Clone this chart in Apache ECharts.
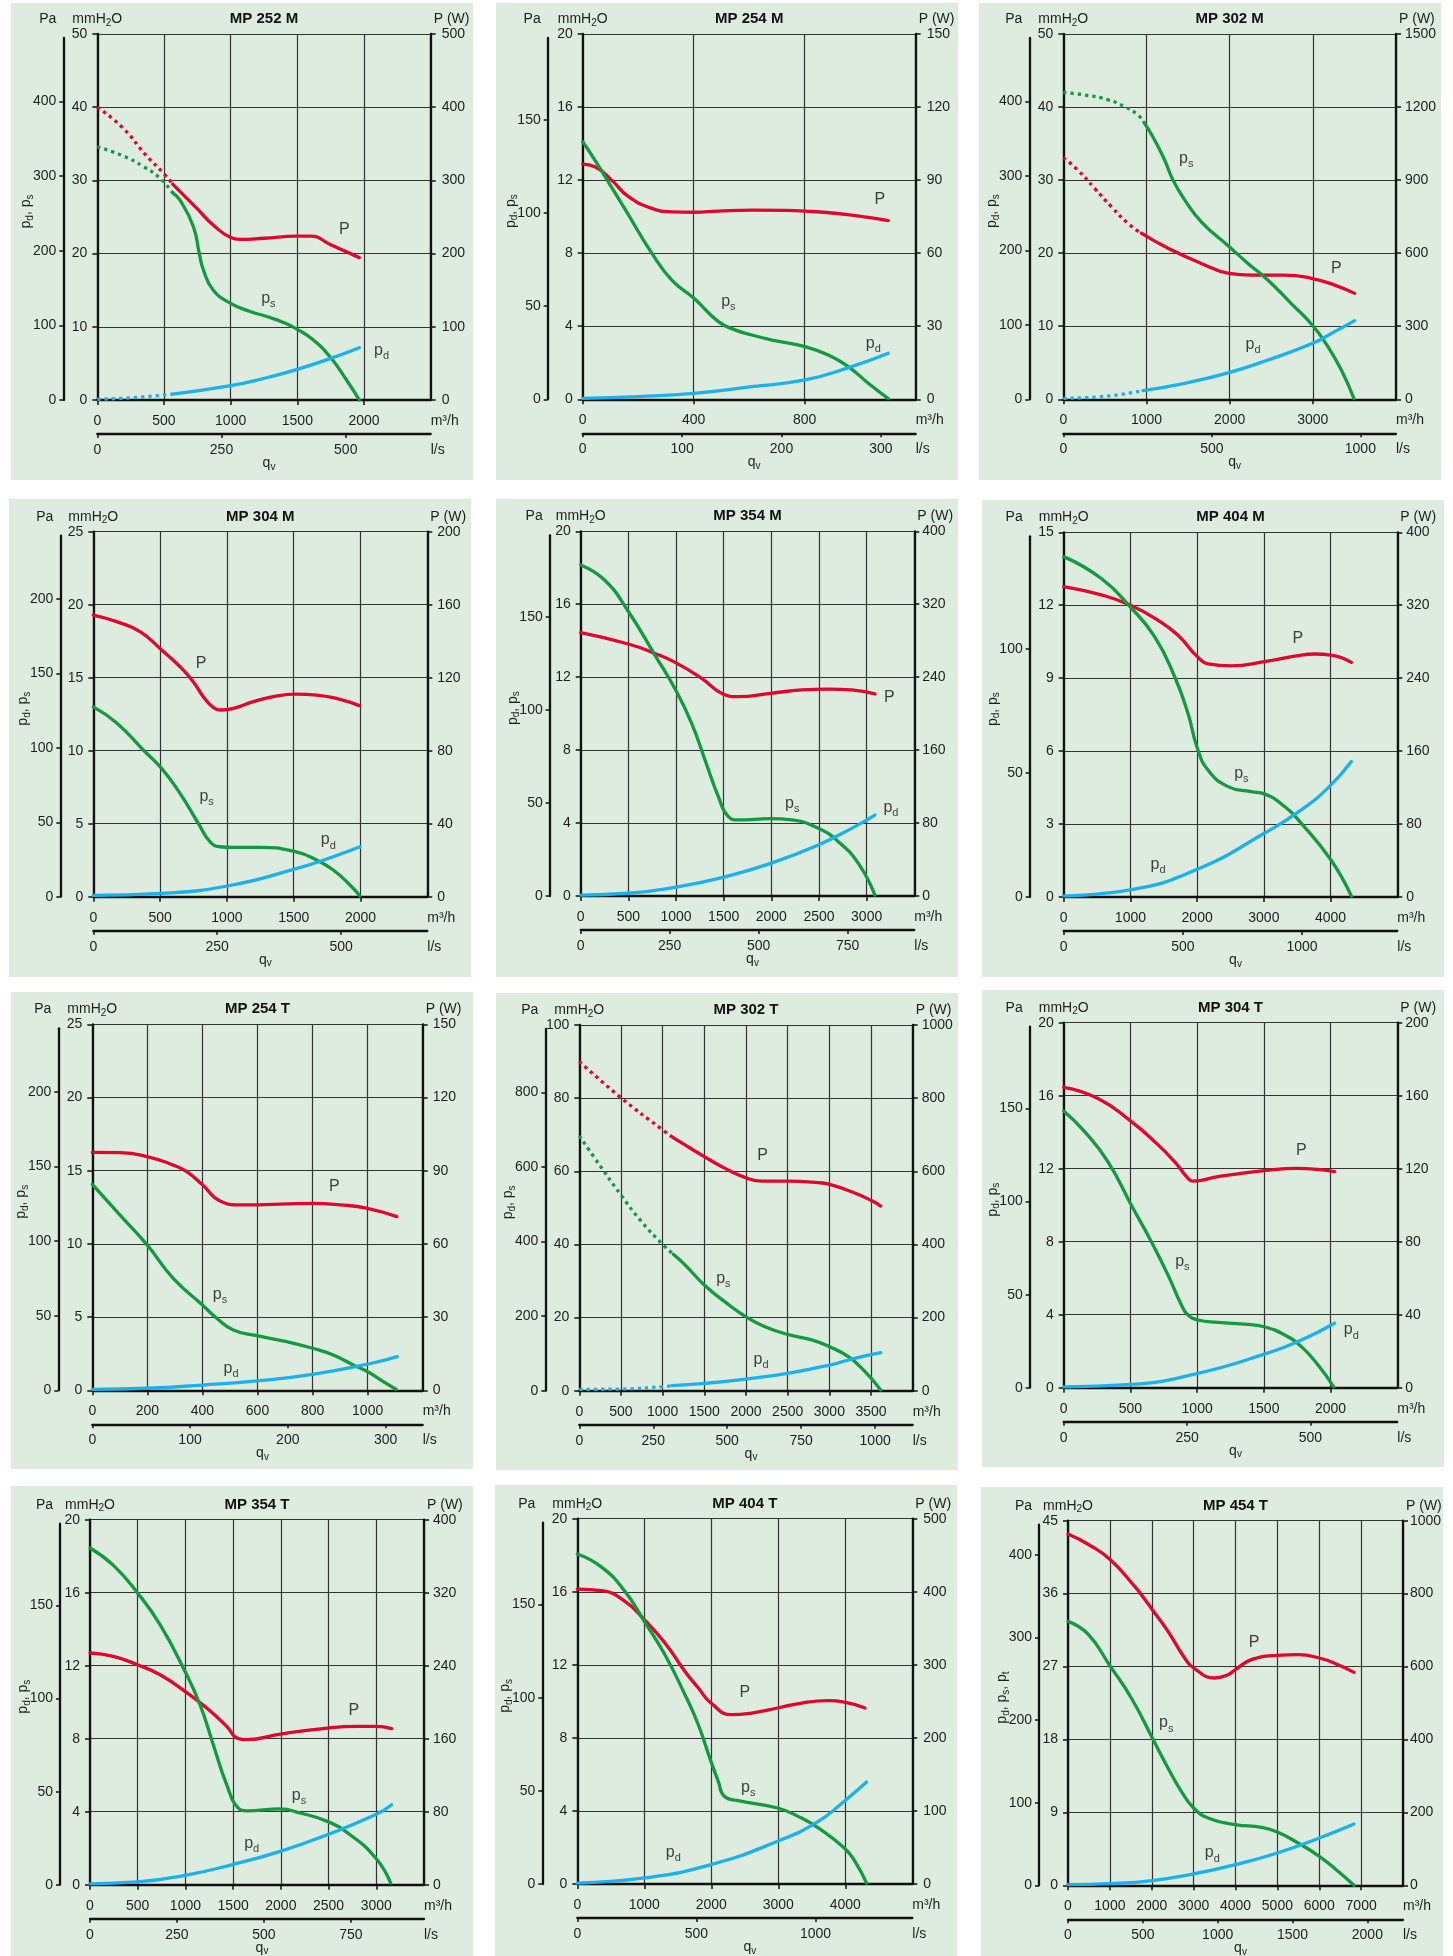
<!DOCTYPE html>
<html><head><meta charset="utf-8">
<script src="https://cdn.jsdelivr.net/npm/echarts@6/dist/echarts.min.js"></script>
<style>
html,body{margin:0;padding:0;background:#fff;width:1453px;height:1956px;overflow:hidden}
.p{position:absolute;background:#deebdf}
</style></head><body>
<script>
// ---------- titles & axis scales ----------
const TITLES = ['MP 252 M','MP 254 M','MP 302 M','MP 304 M','MP 354 M','MP 404 M','MP 254 T','MP 302 T','MP 304 T','MP 354 T','MP 404 T','MP 454 T'];
const MM_AXIS = [[50,10],[20,4],[50,10],[25,5],[20,4],[15,3],[25,5],[100,20],[20,4],[20,4],[20,4],[45,9]];      // mmH2O [max, step]
const P_AXIS  = [[500,100],[150,30],[1500,300],[200,40],[400,80],[400,80],[150,30],[1000,200],[200,40],[400,80],[500,100],[1000,200]]; // W
const Q_AXIS  = [[2500,500],[1200,400],[4000,1000],[2500,500],[3500,500],[5000,1000],[1200,200],[4000,500],[2500,500],[3500,500],[5000,1000],[8000,1000]]; // m3/h
const LS_AXIS = [[671,250],[335,100],[1120,500],[674,250],[937,250],[1400,500],[338,100],[1127,250],[676,250],[960,250],[1406,500],[2238,500]]; // l/s
const PA_TICKS = [[400,100],[150,50],[400,100],[200,50],[150,50],[100,50],[200,50],[800,200],[150,50],[150,50],[150,50],[400,100]]; // Pa [last label, step]
const Y_NAMES = ['d,s','d,s','d,s','d,s','d,s','d,s','d,s','d,s','d,s','d,s','d,s','d,s,t'];
// dotted until q (m3/h) for [P, ps, pd]
const DOTTED = [[565,565,565],null,[938,970,958],null,null,null,null,[1108,1128,1108],null,null,null,null];

// ---------- curve data: [q m3/h, value] (P in W, ps/pd in mmH2O) ----------
const MP252M_P  = [[0,400],[190,372],[362,335],[495,310],[565,295],[750,261],[875,238],[1000,222],[1070,219.5],[1250,221],[1500,224],[1600,224],[1750,212],[1965,194.5]];
const MP252M_ps = [[0,34.6],[200,33.3],[345,31.9],[470,30.3],[565,28.3],[620,27.3],[720,23.7],[765,20.0],[795,17.8],[870,15.0],[1000,13.2],[1145,12.1],[1270,11.4],[1395,10.6],[1500,9.65],[1620,8.2],[1745,5.9],[1870,2.7],[1965,0]];
const MP252M_pd = [[0,0.1],[250,0.3],[565,0.8],[1000,1.96],[1250,2.95],[1500,4.19],[1750,5.69],[1965,7.15]];

const MP254M_P  = [[0,96.6],[44,95.5],[104,90],[165,83.2],[249,78.4],[321,77],[401,76.8],[489,77.3],[609,77.7],[729,77.6],[801,77.3],[909,76.4],[1029,74.7],[1101,73.4]];
const MP254M_ps = [[0,14.1],[44,13.1],[92,11.9],[153,10.4],[249,8.0],[321,6.53],[401,5.53],[489,4.25],[549,3.8],[609,3.52],[693,3.21],[801,2.88],[885,2.43],[957,1.79],[1029,0.88],[1101,0.04]];
const MP254M_pd = [[0,0.05],[200,0.15],[401,0.33],[609,0.69],[801,1.06],[969,1.79],[1101,2.52]];

const MP302M_P  = [[0,992],[176,941],[377,866],[577,791],[778,722],[938,682],[1259,620],[1659,558],[1992,517],[2260,510],[2661,510],[2982,497],[3263,469],[3503,435]];
const MP302M_ps = [[0,42.0],[256,41.65],[537,41.0],[737,40.05],[898,38.9],[970,37.9],[1098,35.5],[1218,32.75],[1319,30.0],[1459,27.3],[1659,24.3],[1992,20.9],[2220,18.6],[2461,16.3],[2741,13.1],[2998,10.1],[3182,7.2],[3343,4.0],[3495,0.1]];
const MP302M_pd = [[0,0.14],[457,0.36],[958,1.19],[1459,2.19],[1992,3.65],[2461,5.38],[2998,7.66],[3263,9.26],[3503,10.77]];

const MP304M_P  = [[0,154.3],[175,150.7],[349,145.2],[511,135.2],[649,126],[748,117.8],[823,109.6],[898,103.7],[961,102.3],[1048,103.2],[1198,106.9],[1347,109.6],[1512,111],[1672,110.5],[1846,108.1],[1991,104.7]];
const MP304M_ps = [[0,13.0],[175,11.9],[374,10.05],[511,8.79],[649,7.08],[786,5.02],[873,3.77],[948,3.42],[1048,3.38],[1247,3.38],[1512,3.08],[1672,2.51],[1796,1.83],[1921,0.8],[1996,0.05]];
const MP304M_pd = [[0,0.09],[511,0.23],[1013,0.75],[1512,1.9],[1796,2.74],[1996,3.42]];

const MP354M_P  = [[0,288.8],[500,276.4],[780,266],[996,256],[1269,238.8],[1493,221.6],[1654,218.6],[1993,222.3],[2318,226],[2598,227],[2843,226],[3087,221.6]];
const MP354M_ps = [[0,18.15],[255,17.3],[500,15.6],[780,13.2],[996,11.3],[1164,9.47],[1304,7.46],[1444,5.45],[1549,4.35],[1654,4.17],[1993,4.24],[2213,4.17],[2493,3.71],[2703,2.98],[2913,1.79],[3087,0.05]];
const MP354M_pd = [[0,0.05],[500,0.15],[996,0.48],[1493,1.02],[1993,1.79],[2493,2.8],[2843,3.71],[3087,4.44]];

const MP404M_P  = [[0,340.4],[564,331.3],[994,320.3],[1414,303.5],[1713,287],[2003,263.6],[2163,255.6],[2513,253.4],[3007,258.1],[3561,265.4],[3761,266.5],[4006,265.4],[4311,257.4]];
const MP404M_ps = [[0,14.0],[564,13.1],[994,11.94],[1364,10.7],[1663,9.06],[1863,7.55],[2003,6.12],[2163,5.22],[2463,4.54],[2812,4.33],[3007,4.24],[3312,3.72],[3561,3.03],[4006,1.52],[4311,0.04]];
const MP404M_pd = [[0,0.05],[994,0.29],[2003,1.14],[3007,2.62],[3561,3.58],[4006,4.61],[4311,5.57]];

const MP254T_P  = [[0,97.5],[100,97.4],[199,95.8],[294,92.3],[343,89.6],[400,84.2],[464,77.6],[536,76.0],[598,76.0],[706,76.4],[800,76.6],[900,76.0],[999,74.6],[1106,71.2]];
const MP254T_ps = [[0,14.07],[100,11.98],[199,9.93],[294,7.65],[400,5.83],[452,4.92],[512,4.12],[598,3.73],[706,3.32],[800,2.87],[875,2.41],[948,1.73],[999,1.28],[1057,0.59],[1103,0.07]];
const MP254T_pd = [[0,0.07],[199,0.14],[400,0.36],[598,0.64],[800,1.09],[999,1.78],[1108,2.3]];

const MP302T_P  = [[0,900],[500,801],[1000,713],[1108,695],[1268,672],[1500,640],[1748,608],[2000,582],[2188,573],[2500,573],[2868,569],[3004,564],[3268,544],[3504,520],[3616,505]];
const MP302T_ps = [[0,69.7],[188,63.5],[500,53.5],[748,46.2],[1000,40.0],[1128,37.3],[1268,34.4],[1500,28.9],[1748,24.3],[2000,20.2],[2228,17.5],[2500,15.4],[2788,13.9],[3004,12.0],[3228,9.3],[3428,5.2],[3616,0.2]];
const MP302T_pd = [[0,0.36],[500,0.46],[1000,1.09],[1108,1.37],[1500,2.0],[2000,3.19],[2500,4.74],[3004,7.02],[3268,8.66],[3616,10.39]];

const MP304T_P  = [[0,164.6],[257,158.5],[507,145.8],[682,134.8],[832,123.8],[932,114.7],[969,113.2],[1156,115.6],[1503,118.9],[1756,120.2],[1906,119.6],[2030,118.4]];
const MP304T_ps = [[0,15.16],[157,14.03],[332,12.38],[507,10.0],[657,8.0],[782,6.17],[882,4.53],[932,3.98],[1006,3.71],[1156,3.58],[1381,3.47],[1503,3.34],[1656,2.89],[1781,2.25],[1906,1.24],[2023,0.05]];
const MP304T_pd = [[0,0.05],[507,0.18],[1006,0.79],[1503,1.84],[1781,2.61],[2030,3.53]];

const MP354T_P  = [[0,253.9],[245,250.2],[496,241.1],[734,230.1],[995,211.9],[1223,193.6],[1432,173.5],[1554,160],[1642,158.9],[1994,165.1],[2487,171.7],[2795,173.5],[2994,173.5],[3161,171]];
const MP354T_ps = [[0,18.45],[245,17.5],[496,16.0],[734,14.25],[995,11.69],[1153,9.86],[1292,7.67],[1432,5.48],[1554,4.2],[1642,4.05],[1994,4.15],[2200,3.93],[2487,3.47],[2725,2.74],[2994,1.46],[3151,0.09]];
const MP354T_pd = [[0,0.05],[496,0.15],[995,0.51],[1491,1.1],[1994,1.83],[2487,2.74],[2994,3.84],[3161,4.38]];

const MP404T_P  = [[0,403.7],[363,401.5],[711,386.9],[1000,361.8],[1308,329.8],[1607,291],[1806,268.2],[1995,247.7],[2303,231.7],[2602,234],[2990,240.9],[3348,247.7],[3746,250.9],[3985,249.1],[4293,240.9]];
const MP404T_ps = [[0,18.07],[363,17.35],[711,16.02],[1000,14.38],[1308,12.55],[1607,10.36],[1806,8.72],[1995,6.71],[2104,5.62],[2194,4.8],[2403,4.56],[2990,4.16],[3348,3.61],[3597,3.07],[3985,1.97],[4144,1.24],[4318,0.05]];
const MP404T_pd = [[0,0.05],[1000,0.33],[1995,1.06],[2990,2.34],[3597,3.43],[3985,4.53],[4318,5.58]];

const MP454T_P  = [[0,963.4],[500,934],[1011,893],[1592,820],[1751,797],[2014,756],[2388,696.5],[2786,623.4],[3001,596],[3502,568.6],[3821,577.7],[3996,591.4],[4378,618.8],[4999,630.7],[5492,632.5],[6002,623.4],[6448,605.1],[6830,584.1]];
const MP454T_ps = [[0,32.58],[478,31.0],[1011,27.02],[1512,23.12],[2014,18.18],[2388,14.48],[2706,11.6],[3001,9.54],[3343,8.31],[3996,7.49],[4617,7.16],[4999,6.58],[5492,5.22],[6002,3.58],[6448,1.73],[6830,0]];
const MP454T_pd = [[0,0.08],[1000,0.2],[2014,0.58],[3001,1.4],[3996,2.55],[4999,3.99],[6002,5.84],[6830,7.57]];

const CURVES = [
  [MP252M_P,MP252M_ps,MP252M_pd],[MP254M_P,MP254M_ps,MP254M_pd],[MP302M_P,MP302M_ps,MP302M_pd],
  [MP304M_P,MP304M_ps,MP304M_pd],[MP354M_P,MP354M_ps,MP354M_pd],[MP404M_P,MP404M_ps,MP404M_pd],
  [MP254T_P,MP254T_ps,MP254T_pd],[MP302T_P,MP302T_ps,MP302T_pd],[MP304T_P,MP304T_ps,MP304T_pd],
  [MP354T_P,MP354T_ps,MP354T_pd],[MP404T_P,MP404T_ps,MP404T_pd],[MP454T_P,MP454T_ps,MP454T_pd]
];
// curve label anchors [q, mmH2O] for P, ps, pd
const LABEL_AT = [
  [[1852,23.3],[1283,13.9],[2132,6.8]],
  [[1071,10.95],[525,5.35],[1047,3.07]],
  [[3283,17.9],[1479,33.0],[2281,7.44]],
  [[806,16.0],[848,6.85],[1759,3.88]],
  [[3238,10.9],[2220,5.08],[3255,4.84]],
  [[3511,10.61],[2663,5.09],[1414,1.32]],
  [[879,13.91],[464,6.52],[504,1.5]],
  [[2200,64.4],[1728,30.7],[2180,8.57]],
  [[1781,12.98],[889,6.9],[2155,3.16]],
  [[2766,9.53],[2190,4.9],[1694,2.25]],
  [[2502,10.46],[2552,5.26],[1433,1.7]],
  [[4442,29.9],[2348,20.03],[3447,3.99]]
];

// ---------- layout (page pixels) ----------
const BG = [[11,3,473,480],[496,3,958,480],[979,3,1441,480],
            [9,499,471,977],[496,499,958,977],[982,500,1444,977],
            [11,992,473,1469],[496,993,958,1470],[982,990,1444,1467],
            [11,1486,473,1956],[495,1485,957,1956],[981,1487,1443,1956]];
const PLOT = [[97.3,34,430.7,400],[582.7,34,915.7,399.3],[1063.3,34,1396,399.3],
              [93.3,531.7,427.3,896.7],[580.7,531.3,914.3,896],[1063.7,532.3,1397.3,897],
              [92.3,1024.3,422.7,1390.3],[579.3,1025,912.7,1390.7],[1063.7,1022.7,1397.3,1387.7],
              [90,1519.7,424,1884.7],[577.3,1518.7,912.3,1884],[1068,1520.7,1403,1885.3]];
const PA_OFF = [34,35,34,33,31,34,34,34,34,30,35,29];
const R_MARGIN = [11,11,9,10,8,9,10,9,8,9,11,7];

const FONT = "'Liberation Sans', Arial, Helvetica, sans-serif";
const RED = '#e1062c', GREEN = '#139a3f', BLUE = '#1ab1ec';
const INK = '#111', LBL = '#1e1e1e';
const R14 = {b:{fontSize:14,lineHeight:18,color:LBL,fontFamily:FONT,fontWeight:'normal'}, s:{fontSize:10,lineHeight:10,padding:[8,0,0,0],color:LBL,fontFamily:FONT,fontWeight:'normal'}};
const R16 = {b:{fontSize:16,lineHeight:22,color:INK,fontFamily:FONT}, s:{fontSize:11,lineHeight:11,padding:[11,0,0,0],color:INK,fontFamily:FONT}};
const CURVE_LABEL = ['{b|P}','{b|p}{s|s}','{b|p}{s|d}'];

function steps(max, step){ const a=[]; for(let v=0; v<=max+1e-9; v+=step) a.push(+v.toFixed(6)); return a; }
function yName(s){ return s.split(',').map((c,k)=>(k?'{b|, p}':'{b|p}')+'{s|'+c+'}').join(''); }
const plain = (v)=>String(Math.round(v*1000)/1000);

function lineSeries(data, color, yIdx, dotted, z){
  return {type:'line', data:data, xAxisIndex:0, yAxisIndex:yIdx, smooth:0.5, symbol:'none', showSymbol:false,
    silent:true, z:z, clip:false,
    lineStyle:{color:color, width:3.3, type: dotted ? [3.3,4] : 'solid', cap: dotted ? 'butt' : 'round', join:'round'}};
}

for (let i=0;i<12;i++){
  const bg=BG[i], pl=PLOT[i];
  const W=bg[2]-bg[0], H=bg[3]-bg[1];
  const gl=pl[0]-bg[0], gt=pl[1]-bg[1], gw=pl[2]-pl[0], gh=pl[3]-pl[1];
  const div=document.createElement('div');
  div.className='p'; div.style.left=bg[0]+'px'; div.style.top=bg[1]+'px';
  div.style.width=W+'px'; div.style.height=H+'px';
  document.body.appendChild(div);
  const chart=echarts.init(div,null,{renderer:'canvas',width:W,height:H});

  const [mmMax,mmInt]=MM_AXIS[i], [pMax,pInt]=P_AXIS[i], [qMax,qInt]=Q_AXIS[i], [lsMax,lsInt]=LS_AXIS[i], [paTop,paInt]=PA_TICKS[i];
  const paMax = mmMax*9.80665*(gh-4)/gh;
  const paVals = steps(paTop,paInt), lsVals = steps(lsMax,lsInt);
  const axisLine = {show:true,onZero:false,lineStyle:{color:INK,width:2.3}};
  const tick = (len)=>({show:true,inside:false,length:len,lineStyle:{color:INK,width:1.5}});
  const lab = (m)=>({show:true,margin:m,fontSize:14,color:LBL,fontFamily:FONT,formatter:plain});
  const grid = {show:true,lineStyle:{color:'#333',width:1.2}};

  const series=[];
  const colors=[RED,GREEN,BLUE], yIdx=[1,0,0], zs=[3,4,5];
  CURVES[i].forEach((arr,k)=>{
    const d = DOTTED[i] ? DOTTED[i][k] : null;
    if (d!=null){
      series.push(lineSeries(arr.filter(p=>p[0]<=d), colors[k], yIdx[k], true, zs[k]));
      series.push(lineSeries(arr.filter(p=>p[0]>=d), colors[k], yIdx[k], false, zs[k]));
    } else series.push(lineSeries(arr, colors[k], yIdx[k], false, zs[k]));
  });
  series.push({type:'scatter', xAxisIndex:0, yAxisIndex:0, symbolSize:1, silent:true, z:10,
    itemStyle:{color:'rgba(0,0,0,0)'},
    label:{show:true, position:'inside', rich:R16},
    data: LABEL_AT[i].map((p,k)=>({value:p, label:{formatter:CURVE_LABEL[k]}}))});

  chart.setOption({
    animation:false,
    textStyle:{fontFamily:FONT},
    title:[
      {text:TITLES[i], left:gl+gw/2, top:gt-15, textAlign:'center', textVerticalAlign:'middle', padding:0,
       textStyle:{fontSize:15,fontWeight:'bold',color:INK,fontFamily:FONT}},
      {text:'{b|q}{s|v}', left:gl+gw/2+5, top:gt+gh+63, textAlign:'center', textVerticalAlign:'middle', padding:0,
       textStyle:{fontWeight:'normal',rich:R14}}
    ],
    grid:[
      {left:gl, top:gt, width:gw, height:gh, containLabel:false, outerBoundsMode:'none'},
      {left:gl, top:gt+4, width:gw, height:gh-4, containLabel:false, outerBoundsMode:'none'}
    ],
    xAxis:[
      {type:'value', gridIndex:0, position:'bottom', min:0, max:qMax, interval:qInt,
       axisLine:axisLine, axisTick:tick(5), axisLabel:Object.assign(lab(14),{showMaxLabel:false}), splitLine:grid,
       name:'m³/h', nameLocation:'end', nameGap:0, nameMoveOverlap:false,
       nameTextStyle:{align:'left',verticalAlign:'top',padding:[14,0,0,0],fontSize:14,color:LBL,fontFamily:FONT}},
      {type:'value', gridIndex:0, position:'bottom', offset:34, min:0, max:lsMax,
       axisLine:axisLine, axisTick:Object.assign(tick(4),{customValues:lsVals}),
       axisLabel:Object.assign(lab(9),{customValues:lsVals}), splitLine:{show:false},
       name:'l/s', nameLocation:'end', nameGap:0, nameMoveOverlap:false,
       nameTextStyle:{align:'left',verticalAlign:'top',padding:[9,0,0,0],fontSize:14,color:LBL,fontFamily:FONT}},
      {type:'value', gridIndex:1, show:false, min:0, max:1}
    ],
    yAxis:[
      {type:'value', gridIndex:0, position:'left', min:0, max:mmMax, interval:mmInt,
       axisLine:axisLine, axisTick:tick(5), axisLabel:lab(10), splitLine:grid,
       name:'{b|mmH}{s|2}{b|O}', nameLocation:'end', nameGap:15, nameMoveOverlap:false,
       nameTextStyle:{align:'center',verticalAlign:'middle',rich:R14}},
      {type:'value', gridIndex:0, position:'right', min:0, max:pMax, interval:pInt,
       axisLine:axisLine, axisTick:tick(5), axisLabel:lab(R_MARGIN[i]), splitLine:{show:false},
       name:'P (W)', nameLocation:'end', nameGap:15, nameMoveOverlap:false,
       nameTextStyle:{align:'left',verticalAlign:'middle',padding:[0,0,0,3],fontSize:14,color:LBL,fontFamily:FONT}},
      {type:'value', gridIndex:1, position:'left', offset:PA_OFF[i], min:0, max:paMax,
       axisLine:axisLine, axisTick:Object.assign(tick(4),{customValues:paVals}),
       axisLabel:Object.assign(lab(7),{customValues:paVals}), splitLine:{show:false},
       name:'Pa', nameLocation:'end', nameGap:19, nameMoveOverlap:false,
       nameTextStyle:{align:'right',verticalAlign:'middle',padding:[0,7,0,0],fontSize:14,color:LBL,fontFamily:FONT}},
      {type:'value', gridIndex:1, position:'left', offset:PA_OFF[i], min:0, max:1,
       axisLine:{show:false}, axisTick:{show:false}, axisLabel:{show:false}, splitLine:{show:false},
       name:yName(Y_NAMES[i]), nameLocation:'middle', nameRotate:90, nameGap:28, nameMoveOverlap:false,
       nameTextStyle:{align:'center',padding:[0,0,0,15],rich:R14}}
    ],
    series:series
  });
}
</script>
</body></html>
